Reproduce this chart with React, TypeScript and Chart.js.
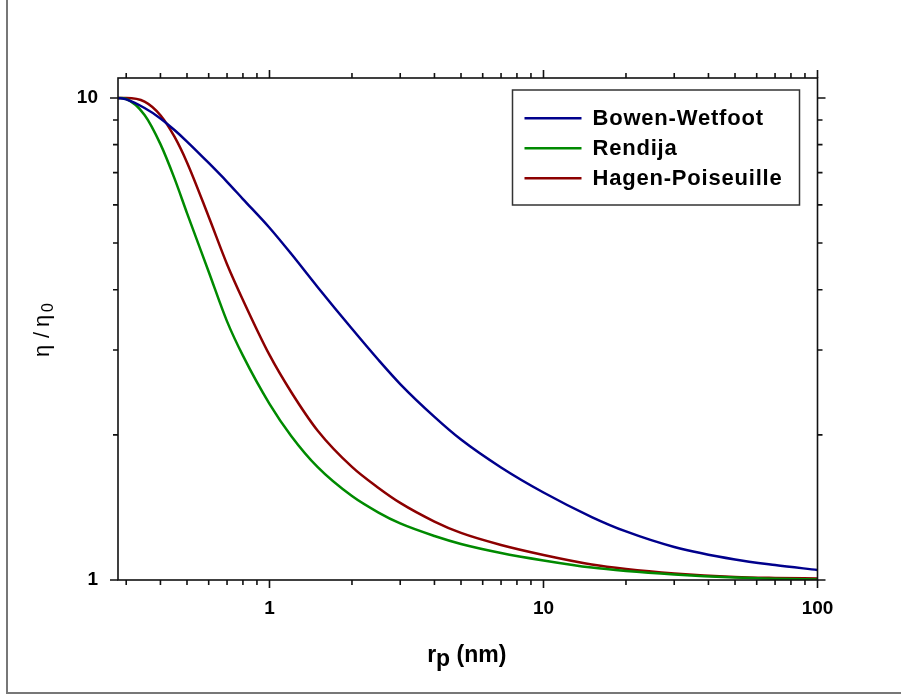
import React, { useEffect, useRef } from "react";
import { Chart, registerables } from "chart.js";

Chart.register(...registerables);

// ---- data ----
const radiusNm = [0.28, 0.3, 0.35, 0.4, 0.45, 0.5, 0.6, 0.7, 0.8, 1, 1.2, 1.5, 2, 2.5, 3, 4, 5, 7, 10, 15, 20, 30, 50, 70, 100];
const bowenWetfoot = [10.0, 9.93, 9.53, 9.07, 8.58, 8.12, 7.33, 6.7, 6.17, 5.38, 4.75, 4.05, 3.32, 2.86, 2.55, 2.18, 1.956, 1.712, 1.519, 1.351, 1.261, 1.171, 1.103, 1.074, 1.049];
const rendija = [10.0, 9.95, 9.22, 8.02, 6.81, 5.77, 4.36, 3.44, 2.92, 2.32, 1.99, 1.714, 1.493, 1.38, 1.31, 1.234, 1.188, 1.138, 1.098, 1.061, 1.044, 1.027, 1.012, 1.006, 1.002];
const hagenPoiseuille = [10.0, 10.0, 9.83, 9.21, 8.31, 7.35, 5.67, 4.52, 3.81, 2.93, 2.455, 2.04, 1.716, 1.552, 1.445, 1.322, 1.252, 1.182, 1.127, 1.077, 1.054, 1.032, 1.015, 1.01, 1.007];

const seriesNames = ["Bowen-Wetfoot", "Rendija", "Hagen-Poiseuille"];
const seriesColors = ["#00008c", "#008a00", "#8c0000"];

const xTickValues = [0.3, 0.4, 0.5, 0.6, 0.7, 0.8, 0.9, 1, 2, 3, 4, 5, 6, 7, 8, 9, 10, 20, 30, 40, 50, 60, 70, 80, 90, 100];
const xTickLabels = ["1", "10", "100"];
const yTickValues = [1, 2, 3, 4, 5, 6, 7, 8, 9, 10];
const yTickLabels = ["1", "10"];

const xMin = 0.28;
const xMax = 100;
const yMin = 1;
const yMax = 11;

const FONT = "'Liberation Sans', Arial, Helvetica, sans-serif";

const decorPlugin = {
  id: "decor",
  afterDraw(chart: any) {
    const { ctx, chartArea: a } = chart;
    const xs = chart.scales.x;
    const ys = chart.scales.y;
    ctx.save();

    // frame
    ctx.strokeStyle = "#111111";
    ctx.lineWidth = 1.6;
    ctx.strokeRect(a.left, a.top, a.right - a.left, a.bottom - a.top);

    // tick marks on all four sides
    ctx.beginPath();
    xTickValues.forEach((v) => {
      const px = xs.getPixelForValue(v);
      const len = xTickLabels.includes(String(v)) ? 8 : 5;
      ctx.moveTo(px, a.bottom);
      ctx.lineTo(px, a.bottom + len);
      ctx.moveTo(px, a.top);
      ctx.lineTo(px, a.top - len);
    });
    yTickValues.forEach((v) => {
      const py = ys.getPixelForValue(v);
      const len = yTickLabels.includes(String(v)) ? 8 : 5;
      ctx.moveTo(a.left, py);
      ctx.lineTo(a.left - len, py);
      ctx.moveTo(a.right, py);
      ctx.lineTo(a.right + len, py);
    });
    ctx.stroke();

    // legend
    const bx = a.right - 305;
    const by = a.top + 12;
    const bw = 287;
    const bh = 115;
    ctx.fillStyle = "#ffffff";
    ctx.fillRect(bx, by, bw, bh);
    ctx.strokeStyle = "#333333";
    ctx.lineWidth = 1.5;
    ctx.strokeRect(bx, by, bw, bh);
    ctx.font = `bold 22px ${FONT}`;
    (ctx as any).letterSpacing = "0.8px";
    ctx.textBaseline = "middle";
    ctx.textAlign = "left";
    chart.data.datasets.forEach((ds: any, i: number) => {
      const ry = by + 28.3 + i * 30;
      ctx.strokeStyle = ds.borderColor;
      ctx.lineWidth = 2.5;
      ctx.beginPath();
      ctx.moveTo(bx + 12, ry);
      ctx.lineTo(bx + 69, ry);
      ctx.stroke();
      ctx.fillStyle = "#000000";
      ctx.fillText(ds.label, bx + 80, ry + 0.5);
    });
    (ctx as any).letterSpacing = "0px";

    // x-axis title: r_p (nm)
    ctx.fillStyle = "#000000";
    ctx.textBaseline = "alphabetic";
    ctx.font = `bold 23px ${FONT}`;
    const wR = ctx.measureText("r").width;
    const wP = ctx.measureText("p").width;
    const wRest = ctx.measureText(" (nm)").width;
    const total = wR + wP + wRest;
    let tx = (a.left + a.right) / 2 - 1 - total / 2;
    const baseY = a.bottom + 82;
    ctx.fillText("r", tx, baseY);
    tx += wR;
    ctx.fillText("p", tx, baseY + 4);
    tx += wP;
    ctx.fillText(" (nm)", tx, baseY);

    // y-axis title: η / η0
    ctx.save();
    const cy = (a.top + a.bottom) / 2;
    ctx.translate(49, cy + 28);
    ctx.rotate(-Math.PI / 2);
    ctx.font = `22px ${FONT}`;
    ctx.fillText("\u03B7", 0, 0);
    ctx.fillText("/", 19, 0);
    ctx.fillText("\u03B7", 30, 0);
    ctx.font = `16px ${FONT}`;
    ctx.fillText("0", 45, 4);
    ctx.restore();

    ctx.restore();
  },
};

export default function App() {
  const canvasRef = useRef<HTMLCanvasElement | null>(null);

  useEffect(() => {
    if (!canvasRef.current) return;
    const datasets = [bowenWetfoot, rendija, hagenPoiseuille].map((vals, i) => ({
      label: seriesNames[i],
      data: radiusNm.map((r, j) => ({ x: r, y: vals[j] })),
      borderColor: seriesColors[i],
      backgroundColor: seriesColors[i],
      borderWidth: 2.5,
      pointRadius: 0,
      fill: false,
      cubicInterpolationMode: "monotone" as const,
    }));

    const chart = new Chart(canvasRef.current, {
      type: "line",
      data: { datasets },
      options: {
        animation: false,
        responsive: false,
        maintainAspectRatio: false,
        layout: { padding: { left: 58, right: 83.5, top: 78, bottom: 58 } },
        plugins: {
          legend: { display: false },
          tooltip: { enabled: false },
          title: { display: false },
        },
        scales: {
          x: {
            type: "logarithmic",
            position: "bottom",
            min: xMin,
            max: xMax,
            afterBuildTicks: (scale: any) => {
              scale.ticks = xTickValues.map((v) => ({ value: v }));
            },
            afterFit: (scale: any) => {
              scale.height = 60;
            },
            grid: { display: false, drawTicks: false },
            border: { display: false },
            ticks: {
              autoSkip: false,
              maxRotation: 0,
              minRotation: 0,
              padding: 17,
              color: "#000000",
              font: { family: FONT, size: 19, weight: "bold" },
              callback: (value: any) => {
                const s = String(value);
                return xTickLabels.includes(s) ? s : "";
              },
            },
          },
          y: {
            type: "logarithmic",
            position: "left",
            min: yMin,
            max: yMax,
            afterBuildTicks: (scale: any) => {
              scale.ticks = yTickValues.map((v) => ({ value: v }));
            },
            afterFit: (scale: any) => {
              scale.width = 60;
            },
            grid: { display: false, drawTicks: false },
            border: { display: false },
            ticks: {
              autoSkip: false,
              padding: 20,
              color: "#000000",
              font: { family: FONT, size: 19, weight: "bold" },
              callback: (value: any) => {
                const s = String(value);
                return yTickLabels.includes(s) ? s : "";
              },
            },
          },
        },
      },
      plugins: [decorPlugin],
    });
    return () => chart.destroy();
  }, []);

  return (
    <div
      style={{
        position: "fixed",
        left: 0,
        top: 0,
        width: 901,
        height: 698,
        overflow: "hidden",
        background: "#ffffff",
      }}
    >
      <div
        style={{
          position: "absolute",
          left: 6,
          top: -10,
          width: 1000,
          height: 702,
          borderLeft: "2px solid #777777",
          borderBottom: "2px solid #777777",
        }}
      />
      <canvas
        ref={canvasRef}
        width={901}
        height={698}
        style={{ position: "absolute", left: 0, top: 0, width: 901, height: 698 }}
      />
    </div>
  );
}
